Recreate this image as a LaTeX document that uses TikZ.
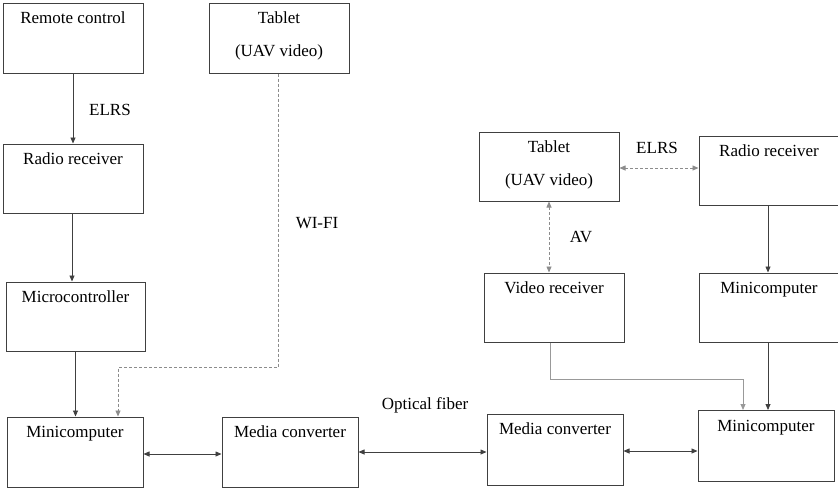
\documentclass[tikz,border=0pt]{standalone}
\usepackage{fontspec}
\setmainfont{Liberation Serif}
\usetikzlibrary{arrows.meta}

\tikzset{
  unit/.style={draw=black!75,line width=1pt,rectangle,inner sep=0pt,
    minimum width=136pt,minimum height=70pt},
  lbl/.style={anchor=base,yshift=-21pt,inner sep=0pt,align=center,
    font=\fontsize{17}{33}\selectfont},
  lbltwo/.style={lbl,yshift=-33pt},
  tag/.style={anchor=base,inner sep=0pt,font=\fontsize{17}{20}\selectfont},
  arr/.style={draw=black!75,line width=0.8pt,-{Triangle[length=6pt,width=5pt]}},
  biarr/.style={arr,{Triangle[length=6pt,width=5pt]}-{Triangle[length=6pt,width=5pt]}},
  wifi/.style={draw=black!45,line width=0.8pt,dash pattern=on 3pt off 2pt},
  feed/.style={draw=black!40,line width=1pt,-{Triangle[length=6pt,width=5pt]}},
}

\begin{document}
\begin{tikzpicture}[x=1pt,y=-1pt]
      \useasboundingbox (0,0) rectangle (838,490);

      % left column
      \node[unit,minimum width=140pt,label={[lbl]north:Remote control}] (rc) at (73,38) {};
      \node[unit,minimum width=140pt,minimum height=69pt,label={[lbl]north:Radio receiver}] (rr1) at (73,178.5) {};
      \node[unit,minimum width=139pt,minimum height=69pt,label={[lbl]north:Microcontroller}] (mcu) at (75.5,316.5) {};
      \node[unit,label={[lbl]north:Minicomputer}] (mini1) at (75,452) {};
      \node[unit,minimum width=140pt,label={[lbltwo]north:Tablet\\(UAV video)}] (tab1) at (279,38) {};
      \node[unit,label={[lbl]north:Media converter}] (mc1) at (290,452) {};

      % right side
      \node[unit,minimum width=140pt,minimum height=69pt,label={[lbltwo]north:Tablet\\(UAV video)}] (tab2) at (549,166.5) {};
      \node[unit,minimum width=140pt,minimum height=69pt,label={[lbl]north:Radio receiver}] (rr2) at (769,170.5) {};
      \node[unit,minimum width=140pt,minimum height=69pt,label={[lbl]north:Video receiver}] (vr) at (554,307.5) {};
      \node[unit,minimum width=140pt,minimum height=69pt,label={[lbl]north:Minicomputer}] (mini2) at (769,307.5) {};
      \node[unit,minimum height=71pt,label={[lbl]north:Media converter}] (mc2) at (555,449.5) {};
      \node[unit,minimum height=71pt,label={[lbl]north:Minicomputer}] (mini3) at (766,446) {};

      % link labels
      \node[tag] (elrs1) at (110,115) {ELRS};
      \node[tag] (wifilbl) at (317,228) {WI-FI};
      \node[tag] (elrs2) at (657,153) {ELRS};
      \node[tag] (avlbl) at (581,242) {AV};
      \node[tag] (fiber) at (425,409) {Optical fiber};

      % connectors
      \draw[arr] (rc.south) -- (rc.south |- rr1.north);
      \draw[arr] ([xshift=-1pt]rr1.south) -- ([xshift=-1pt]rr1.south |- mcu.north);
      \draw[arr] (mcu.south) -- (mcu.south |- mini1.north);
      \coordinate (wbend) at (118,367);
      \draw[wifi,-{Triangle[length=6pt,width=5pt]}] ([xshift=-1pt]tab1.south) |- (wbend) -- (wbend |- mini1.north);
      \draw[biarr] ([yshift=-2pt]mini1.east) -- ([yshift=-2pt]mini1.east -| mc1.west);
      \draw[biarr] (mc1.east) -- (mc1.east -| mc2.west);
      \draw[biarr] ([yshift=-1.5pt]mc2.east) -- ([yshift=-1.5pt]mc2.east -| mini3.west);

      \draw[wifi,{Triangle[length=6pt,width=5pt]}-{Triangle[length=6pt,width=5pt]}] ([yshift=-1.5pt]tab2.east) -- ([yshift=-1.5pt]tab2.east -| rr2.west);
      \draw[wifi,{Triangle[length=6pt,width=5pt]}-{Triangle[length=6pt,width=5pt]}] (tab2.south) -- (tab2.south |- vr.north);
      \draw[arr] ([xshift=-1pt]rr2.south) -- ([xshift=-1pt]rr2.south |- mini2.north);
      \draw[arr] ([xshift=-1pt]mini2.south) -- ([xshift=-1pt]mini2.south |- mini3.north);
      \draw[feed] ([xshift=-4pt]vr.south) -- ++(0,37) -| ([xshift=-23pt]mini3.north);
\end{tikzpicture}
\end{document}
